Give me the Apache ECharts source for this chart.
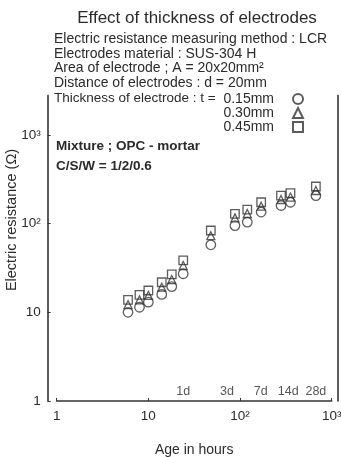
<!DOCTYPE html>
<html>
<head>
<meta charset="utf-8">
<script src="https://cdn.jsdelivr.net/npm/echarts@6/dist/echarts.min.js"></script>
<style>
html,body{margin:0;padding:0;background:#fff;}
#c{width:341px;height:457px;}
</style>
</head>
<body>
<div id="c"></div>
<script>
// ---- data ----
const hours = [6, 8, 10, 14, 18, 24, 48, 88, 120, 170, 280, 355, 672];
const r015 = [10.0, 11.4, 13.0, 15.9, 19.5, 27.2, 57.7, 95, 104, 135, 160, 174, 207];
const r030 = [12.2, 13.8, 15.5, 19.2, 23.4, 33.7, 73, 116, 130, 157, 187, 199, 236];
const r045 = [13.8, 15.7, 17.6, 21.8, 26.7, 38.4, 83.6, 129, 144, 174, 207, 220, 262];
const seriesNames = ['0.15mm', '0.30mm', '0.45mm'];
const dayHours = [24, 72, 168, 336, 672];
const dayLabels = ['1d', '3d', '7d', '14d', '28d'];
const powLabels = {1: '1', 10: '10', 100: '10\u00b2', 1000: '10\u00b3'};
const infoLines = [
  'Electric resistance measuring method : LCR',
  'Electrodes material : SUS-304 H',
  'Area of electrode ; A = 20x20mm\u00b2',
  'Distance of electrodes : d = 20mm',
  'Thickness of electrode : t ='
];
const mixLines = ['Mixture ; OPC - mortar', 'C/S/W = 1/2/0.6'];

const INK = '#333';
const FONT = 'Liberation Sans';

function pair(xs, ys) { return xs.map((x, i) => [x, ys[i]]); }
function powFmt(v) {
  const e = Math.log10(v);
  if (Math.abs(e - Math.round(e)) > 1e-6) return '';
  const k = Math.round(Math.pow(10, Math.round(e)));
  return powLabels[k] !== undefined ? powLabels[k] : '';
}
const markerStyle = { color: 'rgba(0,0,0,0)', borderColor: INK, borderWidth: 1.3 };

const chart = echarts.init(document.getElementById('c'), null, { renderer: 'canvas' });
const graphics = [];
infoLines.forEach((t, i) => {
  graphics.push({ type: 'text', left: 54, top: 32 + i * 14.8,
    style: { text: t, fontSize: i === 4 ? 13.5 : 14, fontFamily: FONT, fill: '#2a2a2a' } });
});
mixLines.forEach((t, i) => {
  graphics.push({ type: 'text', left: 56, top: 139 + i * 20,
    style: { text: t, fontSize: 13.5, fontWeight: 'bold', fontFamily: FONT, fill: '#2a2a2a' } });
});
graphics.push({ type: 'text', x: 12, y: 220, rotation: Math.PI / 2,
  style: { text: 'Electric resistance (\u03a9)', fontSize: 14.5, fontFamily: FONT, fill: '#2a2a2a',
    align: 'center', verticalAlign: 'middle' } });

chart.setOption({
  animation: false,
  backgroundColor: '#fff',
  textStyle: { fontFamily: FONT, color: '#2a2a2a' },
  title: {
    text: 'Effect of thickness of electrodes',
    left: 192, top: 5, textAlign: 'center',
    textStyle: { fontSize: 17, fontWeight: 'normal', fontFamily: FONT, color: '#2a2a2a' }
  },
  legend: {
    data: seriesNames, orient: 'vertical', right: 32, top: 87, align: 'right',
    itemWidth: 10, itemHeight: 10, itemGap: 0,
    textStyle: { fontSize: 14, fontFamily: FONT, color: '#2a2a2a', padding: [0, 14, 0, 0] }
  },
  graphic: graphics,
  grid: { left: 56.7, right: 9.3, top: 95.5, bottom: 56, containLabel: false, outerBoundsMode: 'none' },
  xAxis: [{
    type: 'log', logBase: 10, min: 1, max: 1000,
    name: 'Age in hours', nameLocation: 'middle', nameGap: 42,
    nameTextStyle: { fontSize: 14, fontFamily: FONT, color: '#2a2a2a' },
    axisLine: { onZero: false, lineStyle: { color: INK, width: 1.6 } },
    axisTick: { inside: true, length: 3, lineStyle: { color: INK } },
    axisLabel: { margin: 8, fontSize: 13.5, fontFamily: FONT, color: '#2a2a2a', formatter: powFmt },
    splitLine: { show: false }, minorTick: { show: false }
  }],
  yAxis: [{
    type: 'log', logBase: 10, min: 1, max: 2780, offset: 9,
    axisLine: { onZero: false, lineStyle: { color: INK, width: 1.6 } },
    axisTick: { inside: true, length: 3, lineStyle: { color: INK } },
    axisLabel: { margin: 7, fontSize: 13.5, fontFamily: FONT, color: '#2a2a2a', formatter: powFmt, showMaxLabel: false },
    splitLine: { show: false }
  }, {
    type: 'value', position: 'right', offset: 6.5, min: 0, max: 1,
    axisLine: { show: true, onZero: false, lineStyle: { color: INK, width: 1.6 } },
    axisTick: { show: false }, axisLabel: { show: false }, splitLine: { show: false }
  }],
  series: [
    { name: seriesNames[0], type: 'scatter', symbol: 'circle', symbolSize: 9.5, data: pair(hours, r015), itemStyle: markerStyle, z: 3 },
    { name: seriesNames[1], type: 'scatter', symbol: 'triangle', symbolSize: 8, data: pair(hours, r030), itemStyle: markerStyle, z: 3 },
    { name: seriesNames[2], type: 'scatter', symbol: 'rect', symbolSize: 8.5, data: pair(hours, r045), itemStyle: markerStyle, z: 3 },
    { name: 'days', type: 'scatter', silent: true, symbol: 'circle', symbolSize: 1,
      itemStyle: { color: 'rgba(0,0,0,0)' },
      data: dayHours.map((h, i) => ({ value: [h, 1], label: { formatter: dayLabels[i] } })),
      label: { show: true, position: 'top', distance: 2, fontSize: 12.5, fontFamily: FONT, color: '#2a2a2a' },
      z: 4 }
  ]
});
</script>
</body>
</html>
